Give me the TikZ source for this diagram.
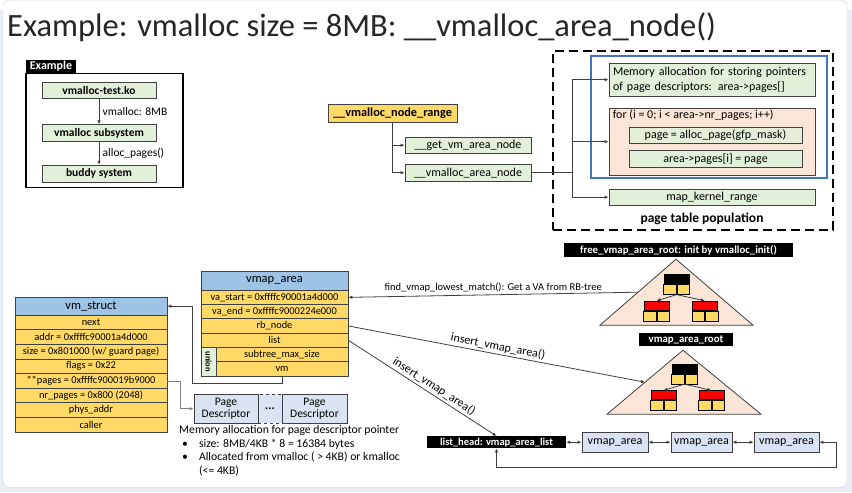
\documentclass[tikz,border=0pt]{standalone}
\usepackage{fontspec}
\setmainfont{Carlito}
\usetikzlibrary{positioning, arrows.meta, calc}

\definecolor{boxgreen}{RGB}{226,240,217}
\definecolor{rowyellow}{RGB}{255,217,102}
\definecolor{headblue}{RGB}{157,195,230}
\definecolor{paleblue}{RGB}{218,227,243}
\definecolor{peach}{RGB}{251,229,214}
\definecolor{frameblue}{RGB}{68,114,196}
\definecolor{linegray}{RGB}{64,64,64}
\definecolor{pagebg}{RGB}{233,237,244}
\definecolor{slideedge}{RGB}{205,212,224}

\newcommand{\boxfont}{\fontsize{12}{14.5}\selectfont}
\newcommand{\rowfont}{\fontsize{10.4}{12}\selectfont}
\newcommand{\headfont}{\fontsize{12.5}{14}\selectfont}

% one red-black tree node: coloured top, two yellow cells below
\newcommand{\rbnode}[4]{%
  \node[rbtop, fill=#4] (#1) at (#2,#3) {};
  \node[rbcell, anchor=north east] (#1-l) at (#1.south) {};
  \node[rbcell, anchor=north west] (#1-r) at (#1.south) {};
}

\tikzset{
  >={Latex[length=4pt,width=3.6pt]},
  box/.style={draw=linegray, line width=0.8pt, inner sep=1pt, minimum height=16, font=\boxfont},
  greenbox/.style={box, fill=boxgreen},
  yellowbox/.style={box, fill=rowyellow},
  bluebox/.style={box, fill=paleblue},
  row/.style={draw=linegray, line width=0.7pt, fill=rowyellow, inner sep=0pt, minimum height=14.3, font=\rowfont},
  head/.style={row, fill=headblue, font=\headfont},
  blacklabel/.style={fill=black, text=white, inner xsep=2pt, inner ysep=0pt, minimum height=13, font=\bfseries\fontsize{10.8}{12}\selectfont},
  tri/.style={draw=linegray, line width=0.8pt, fill=peach},
  rbtop/.style={draw=black, line width=0.6pt, minimum width=25, minimum height=9, inner sep=0pt},
  rbcell/.style={draw=black, line width=0.6pt, fill=rowyellow, minimum width=12.5, minimum height=10, inner sep=0pt},
  link/.style={draw=linegray, line width=0.8pt},
  note/.style={font=\fontsize{10.5}{12}\selectfont, inner sep=2pt},
}

\begin{document}
\begin{tikzpicture}[x=1pt, y=-1pt]
  % slide
  \fill[pagebg] (0,0) rectangle (852,482);
  \filldraw[fill=white, draw=slideedge, rounded corners=6] (3,-10) rectangle (847,477);
  \useasboundingbox (0,0) rectangle (852,482);

  \node[anchor=north west, text=black!85, font=\fontsize{32.5}{34}\selectfont, inner sep=0pt] (title) at (7,2)
    {Example: vmalloc size = 8MB: \_\_vmalloc\_area\_node()};

  % example call chain
  \node[draw=black, line width=1.2pt, minimum width=157, minimum height=114] (exframe) at (104.5,120) {};
  \node[blacklabel, minimum width=50, font=\bfseries\fontsize{12}{13}\selectfont] (exlabel) at (51,56.5) {Example};
  \node[greenbox, minimum width=114, font=\bfseries\fontsize{11.5}{13}\selectfont] (testko) at (99,80) {vmalloc-test.ko};
  \node[greenbox, minimum width=114, minimum height=17, font=\bfseries\fontsize{11.5}{13}\selectfont] (subsys) at (99,123) {vmalloc subsystem};
  \node[greenbox, minimum width=114, minimum height=17, font=\bfseries\fontsize{11.5}{13}\selectfont] (buddy) at (99,163.5) {buddy system};
  \draw[link, ->] (testko) -- (subsys) node[midway, right, font=\fontsize{11.5}{13}\selectfont] (lbla) {vmalloc: 8MB};
  \draw[link, ->] (subsys) -- (buddy) node[midway, right, font=\fontsize{11.5}{13}\selectfont] (lblb) {alloc\_pages()};

  % call path
  \node[yellowbox, minimum width=129, minimum height=18, font=\bfseries\fontsize{12.3}{14}\selectfont] (noderange) at (392.5,103) {\_\_vmalloc\_node\_range};
  \node[greenbox, minimum width=126] (getvm) at (468,135) {\_\_get\_vm\_area\_node};
  \node[greenbox, minimum width=126, minimum height=17] (areanode) at (468,162.5) {\_\_vmalloc\_area\_node};
  \draw[link, ->] (noderange.south) |- (getvm.west);
  \draw[link, ->] (noderange.south) |- (areanode.west);

  % page table population
  \node[draw=black, dashed, dash pattern=on 9pt off 5pt, line width=2.2pt, minimum width=280, minimum height=179] (popframe) at (693,130.5) {};
  \node[draw=frameblue, line width=2.2pt, minimum width=236, minimum height=122] (blueframe) at (709,107) {};
  \node[greenbox, text width=198, align=left, inner sep=4pt, minimum height=33] (memalloc) at (712,69.5)
    {Memory allocation for storing pointers\\of page descriptors: area->pages[]};
  \node[box, fill=peach, minimum width=206, minimum height=67] (forbox) at (712,131.5) {};
  \node[anchor=north west, font=\boxfont, inner sep=0pt] (fortext) at ($(forbox.north west)+(4,2)$)
    {for (i = 0; i < area->nr\_pages; i++)};
  \node[greenbox, minimum width=173] (allocpage) at (715.5,125) {page = alloc\_page(gfp\_mask)};
  \node[greenbox, minimum width=173, minimum height=17] (setpage) at (715.5,148.5) {area->pages[i] = page};
  \node[greenbox, minimum width=206] (mapkernel) at (712,187) {map\_kernel\_range};
  \node[font=\bfseries\fontsize{13.5}{15}\selectfont] (poplabel) at (702,209) {page table population};
  \coordinate (fork) at (572,162.5);
  \draw[link] (areanode.east) -- (fork);
  \draw[link, ->] (fork) |- (memalloc.west);
  \draw[link, ->] (fork) |- (forbox.west);
  \draw[link, ->] (fork) |- (mapkernel.west);

  % free tree
  \node[blacklabel, minimum width=229, minimum height=14] (freeroot) at (678.5,240) {free\_vmap\_area\_root: init by vmalloc\_init()};
  \coordinate (t1a) at (676,249);
  \coordinate (t1l) at (600,315);
  \coordinate (t1r) at (753,315);
  \filldraw[tri] (t1a) -- (t1l) -- (t1r) -- cycle;
  \rbnode{rootA}{676.5}{269}{black}
  \rbnode{leftA}{656.5}{295.5}{red}
  \rbnode{rightA}{705}{295.5}{red}
  \draw[link, ->] (rootA-l.south east) -- (leftA.north);
  \draw[link, ->] (rootA-l.south east) -- (rightA.north);

  % busy tree
  \node[blacklabel, minimum width=94] (busyroot) at (686,329.5) {vmap\_area\_root};
  \coordinate (t2a) at (683,340);
  \coordinate (t2l) at (607,404);
  \coordinate (t2r) at (761,404);
  \filldraw[tri] (t2a) -- (t2l) -- (t2r) -- cycle;
  \rbnode{rootB}{684.5}{358.5}{black}
  \rbnode{leftB}{663.5}{385}{red}
  \rbnode{rightB}{711.5}{385}{red}
  \draw[link, ->] (rootB-l.south east) -- (leftB.north);
  \draw[link, ->] (rootB-l.south east) -- (rightB.north);

  % vmap_area
  \node[head, minimum width=147, minimum height=19] (vahead) at (274.5,270.5) {vmap\_area};
  \node[row, minimum width=147] (vastart) at (274.5,287.15) {va\_start = 0xffffc90001a4d000};
  \node[row, minimum width=147] (vaend) at (274.5,301.45) {va\_end = 0xffffc9000224e000};
  \node[row, minimum width=147] (rbnode) at (274.5,315.75) {rb\_node};
  \node[row, minimum width=147] (list) at (274.5,330.05) {list};
  \node[row, minimum width=132] (subtree) at (282,344.35) {subtree\_max\_size};
  \node[row, minimum width=132] (vm) at (282,358.65) {vm};
  \node[draw=linegray, line width=0.7pt, fill=boxgreen, rotate=-90, minimum width=28.6, minimum height=15, inner sep=0pt,
        font=\bfseries\fontsize{8.5}{9}\selectfont] (union) at (208.5,351.5) {union};

  % vm_struct
  \node[head, minimum width=152, minimum height=18] (vshead) at (91,296) {vm\_struct};
  \foreach \txt [count=\i] in {next, addr = 0xffffc90001a4d000, size = 0x801000 (w/ guard page), flags = 0x22,
      **pages = 0xffffc900019b9000, nr\_pages = 0x800 (2048), phys\_addr, caller}
    \node[row, minimum width=152, minimum height=14.6] (vs\i) at (91,{305+14.6*\i-7.3}) {\txt};

  \coordinate (vmbend) at (192,373);
  \draw[link, ->] (vm.south) |- (vmbend) |- (vshead.east);

  % page descriptors
  \node[bluebox, minimum width=24, minimum height=29, dashed] (pddots) at (270,398.5) {\textbf{...}};
  \node[bluebox, minimum width=64, minimum height=29, align=center, font=\fontsize{11.5}{12}\selectfont] (pdA) at (226,398.5) {Page\\Descriptor};
  \node[bluebox, minimum width=65, minimum height=29, align=center, font=\fontsize{11.5}{12}\selectfont] (pdB) at (314.5,398.5) {Page\\Descriptor};
  \draw[draw=gray, line width=0.8pt, ->] (vs5.east) -- ++(13,0) |- (pdA.west);
  \node[anchor=north west, align=left, font=\fontsize{11.7}{13.5}\selectfont, inner sep=0pt] (pdnote) at (179,415)
    {Memory allocation for page descriptor pointer\\
     \hspace*{3pt}\textbullet\hspace{11pt}size: 8MB/4KB * 8 = 16384 bytes\\
     \hspace*{3pt}\textbullet\hspace{11pt}Allocated from vmalloc ( > 4KB) or kmalloc\\
     \hspace*{20pt}(<= 4KB)};

  % list
  \node[blacklabel, minimum width=139, minimum height=12, font=\bfseries\fontsize{10.5}{12}\selectfont] (lhead) at (496.5,432) {list\_head: vmap\_area\_list};
  \node[bluebox, minimum width=66, minimum height=20, font=\fontsize{12}{13}\selectfont] (vaA) at (615,432) {vmap\_area};
  \node[bluebox, minimum width=61, minimum height=20, font=\fontsize{12}{13}\selectfont] (vaB) at (701.5,432) {vmap\_area};
  \node[bluebox, minimum width=65, minimum height=20, font=\fontsize{12}{13}\selectfont] (vaC) at (786.5,432) {vmap\_area};
  \draw[link, <->] (lhead.east) -- (vaA.west);
  \draw[link, <->] (vaA.east) -- (vaB.west);
  \draw[link, <->] (vaB.east) -- (vaC.west);
  \coordinate (loopend) at (836,457);
  \draw[link, <->] (vaC.east) -| (loopend) -| (lhead.south);

  % links between structures
  \coordinate (t1hit) at (638,282);
  \coordinate (t2hit) at (645,372);
  \draw[link, ->] (t1hit) -- (vastart.east) node[midway, above, note] (findlbl) {find\_vmap\_lowest\_match(): Get a VA from RB-tree};
  \draw[link, ->] (rbnode.east) -- (t2hit) node[midway, above, sloped, note, font=\fontsize{12}{13}\selectfont] (inslblA) {insert\_vmap\_area()};
  \draw[link, ->] (list.east) -- (lhead.north) node[pos=0.55, above, sloped, note, font=\fontsize{12}{13}\selectfont] (inslblB) {insert\_vmap\_area()};
\end{tikzpicture}
\end{document}
